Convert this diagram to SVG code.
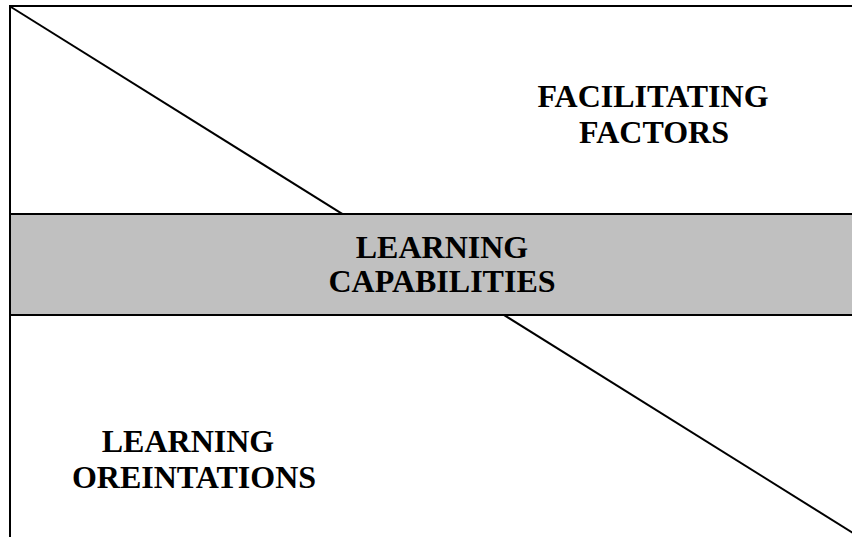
<svg xmlns="http://www.w3.org/2000/svg" width="852" height="537" viewBox="0 0 852 537">
<style>
.ln{stroke:#000;stroke-width:2;fill:none}
.lbl{font-family:"Liberation Serif","Times New Roman",serif;font-weight:bold;font-size:32px;fill:#000;text-anchor:middle}
</style>
<rect width="852" height="537" fill="#fff"/>
<g id="connectors">
<line class="ln" x1="11" y1="7" x2="853" y2="533"/>
</g>
<g id="frame">
<line class="ln" x1="10" y1="6" x2="852" y2="6"/>
<line class="ln" x1="10" y1="5" x2="10" y2="537"/>
</g>
<g id="capabilities">
<rect x="10" y="214" width="844" height="101" fill="#c0c0c0" stroke="#000" stroke-width="2"/>
<text class="lbl" x="442" y="258">LEARNING</text>
<text class="lbl" x="442" y="292">CAPABILITIES</text>
</g>
<g id="facilitating">
<text class="lbl" x="653" y="107">FACILITATING</text>
<text class="lbl" x="654" y="143">FACTORS</text>
</g>
<g id="orientations">
<text class="lbl" x="188" y="452">LEARNING</text>
<text class="lbl" x="194" y="488">OREINTATIONS</text>
</g>
</svg>
